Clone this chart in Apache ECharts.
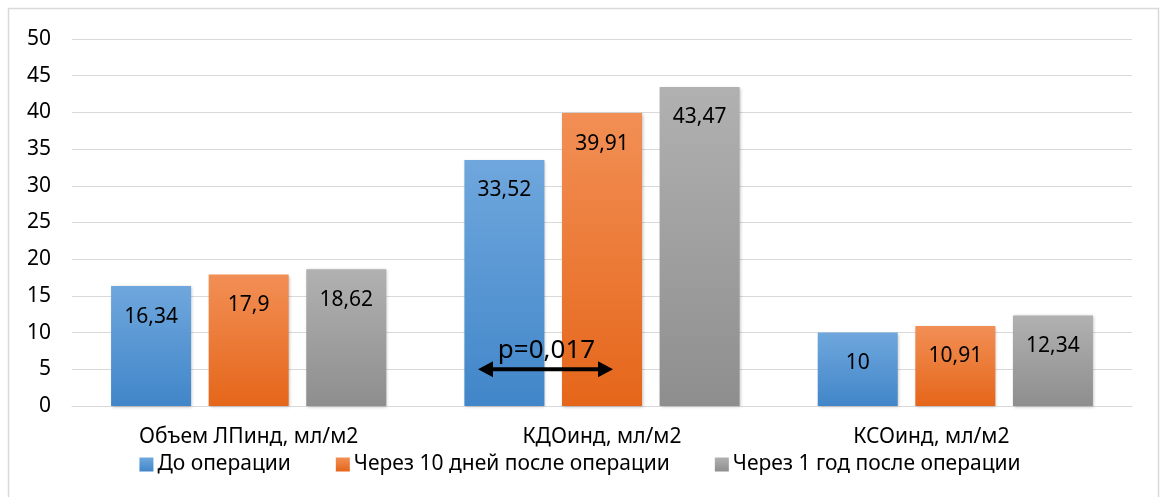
<!DOCTYPE html>
<html>
<head>
<meta charset="utf-8">
<script src="https://cdn.jsdelivr.net/npm/echarts@6/dist/echarts.min.js"></script>
<style>
  html, body { margin: 0; padding: 0; background: #fff; }
  #chart { width: 1160px; height: 497px; }
</style>
</head>
<body>
<div id="chart"></div>
<script>
// Indexed left atrial / LV volumes before and after surgery
const categories = ['Объем ЛПинд, мл/м2', 'КДОинд, мл/м2', 'КСОинд, мл/м2'];
const seriesNames = ['До операции', 'Через 10 дней после операции', 'Через 1 год после операции'];
const beforeSurgery = [16.34, 33.52, 10];
const after10Days = [17.9, 39.91, 10.91];
const after1Year = [18.62, 43.47, 12.34];
const yTicks = { min: 0, max: 50, interval: 5 };
const pValueText = 'p=0,017';

const FONT = '"Noto Sans", "DejaVu Sans", sans-serif';

function grad(top, bottom) {
  return new echarts.graphic.LinearGradient(0, 0, 0, 1, [
    { offset: 0, color: top },
    { offset: 1, color: bottom }
  ]);
}
const palette = [
  grad('#6fa7dd', '#4186c9'),
  grad('#f28f55', '#e5661a'),
  grad('#b1b1b1', '#8e8e8e')
];

function fmt(v) { return String(v).replace('.', ','); }

function makeSeries(name, data, i) {
  return {
    name: name,
    type: 'bar',
    data: data,
    barWidth: 80,
    barGap: '22%',
    itemStyle: {
      color: palette[i],
      shadowColor: 'rgba(0,0,0,0.25)',
      shadowBlur: 3,
      shadowOffsetX: 1,
      shadowOffsetY: 1
    },
    label: {
      show: true,
      position: 'insideTop',
      distance: 20,
      color: '#000',
      fontFamily: FONT,
      fontSize: 21,
      formatter: p => fmt(p.value)
    }
  };
}

// the last category label sits a little left of its group centre
const xAxisData = categories.map((c, i) =>
  i === 2 ? { value: c, textStyle: { padding: [0, 48, 0, 0] } } : c
);

const chart = echarts.init(document.getElementById('chart'), null, { renderer: 'canvas' });

const option = {
  backgroundColor: '#fff',
  animation: false,
  grid: { left: 72, right: 28, top: 39, bottom: 91, containLabel: false },
  legend: {
    data: seriesNames,
    top: 449,
    left: 'center',
    itemWidth: 14,
    itemHeight: 14,
    itemGap: 45,
    icon: 'rect',
    textStyle: { fontFamily: FONT, fontSize: 21, color: '#000', padding: [0, 0, 0, -1] }
  },
  xAxis: {
    type: 'category',
    data: xAxisData,
    axisLine: { lineStyle: { color: '#d9d9d9', width: 1 } },
    axisTick: { show: false },
    axisLabel: { fontFamily: FONT, fontSize: 21, color: '#000', margin: 21 }
  },
  yAxis: {
    type: 'value',
    min: yTicks.min,
    max: yTicks.max,
    interval: yTicks.interval,
    axisLine: { show: false },
    axisTick: { show: false },
    splitLine: { lineStyle: { color: '#d9d9d9', width: 1 } },
    axisLabel: { fontFamily: FONT, fontSize: 21, color: '#000', margin: 21 }
  },
  series: [
    makeSeries(seriesNames[0], beforeSurgery, 0),
    makeSeries(seriesNames[1], after10Days, 1),
    makeSeries(seriesNames[2], after1Year, 2)
  ]
};
chart.setOption(option);

// p-value annotation spanning the first two bars of the second group
const yArrow = chart.convertToPixel({ yAxisIndex: 0 }, 5);
const cx = chart.convertToPixel({ xAxisIndex: 0 }, categories[1]);
const x1 = cx - 124;
const x2 = cx + 11;
const head = 15;
chart.setOption({
  graphic: [
    {
      type: 'rect',
      shape: { x: 8.5, y: 8.5, width: 1150, height: 520 },
      style: { fill: 'none', stroke: '#d9d9d9', lineWidth: 1.5 },
      silent: true
    },
    {
      type: 'line',
      shape: { x1: x1 + head - 2, y1: yArrow, x2: x2 - head + 2, y2: yArrow },
      style: { stroke: '#000', lineWidth: 4 },
      z: 100
    },
    {
      type: 'polygon',
      shape: { points: [[x1, yArrow], [x1 + head, yArrow - 8], [x1 + head, yArrow + 8]] },
      style: { fill: '#000' },
      z: 100
    },
    {
      type: 'polygon',
      shape: { points: [[x2, yArrow], [x2 - head, yArrow - 8], [x2 - head, yArrow + 8]] },
      style: { fill: '#000' },
      z: 100
    },
    {
      type: 'text',
      x: (x1 + x2) / 2 + 1,
      y: yArrow - 6,
      style: {
        text: pValueText,
        fontFamily: FONT,
        fontSize: 26,
        fill: '#000',
        align: 'center',
        verticalAlign: 'bottom'
      },
      z: 100
    }
  ]
});
</script>
</body>
</html>
